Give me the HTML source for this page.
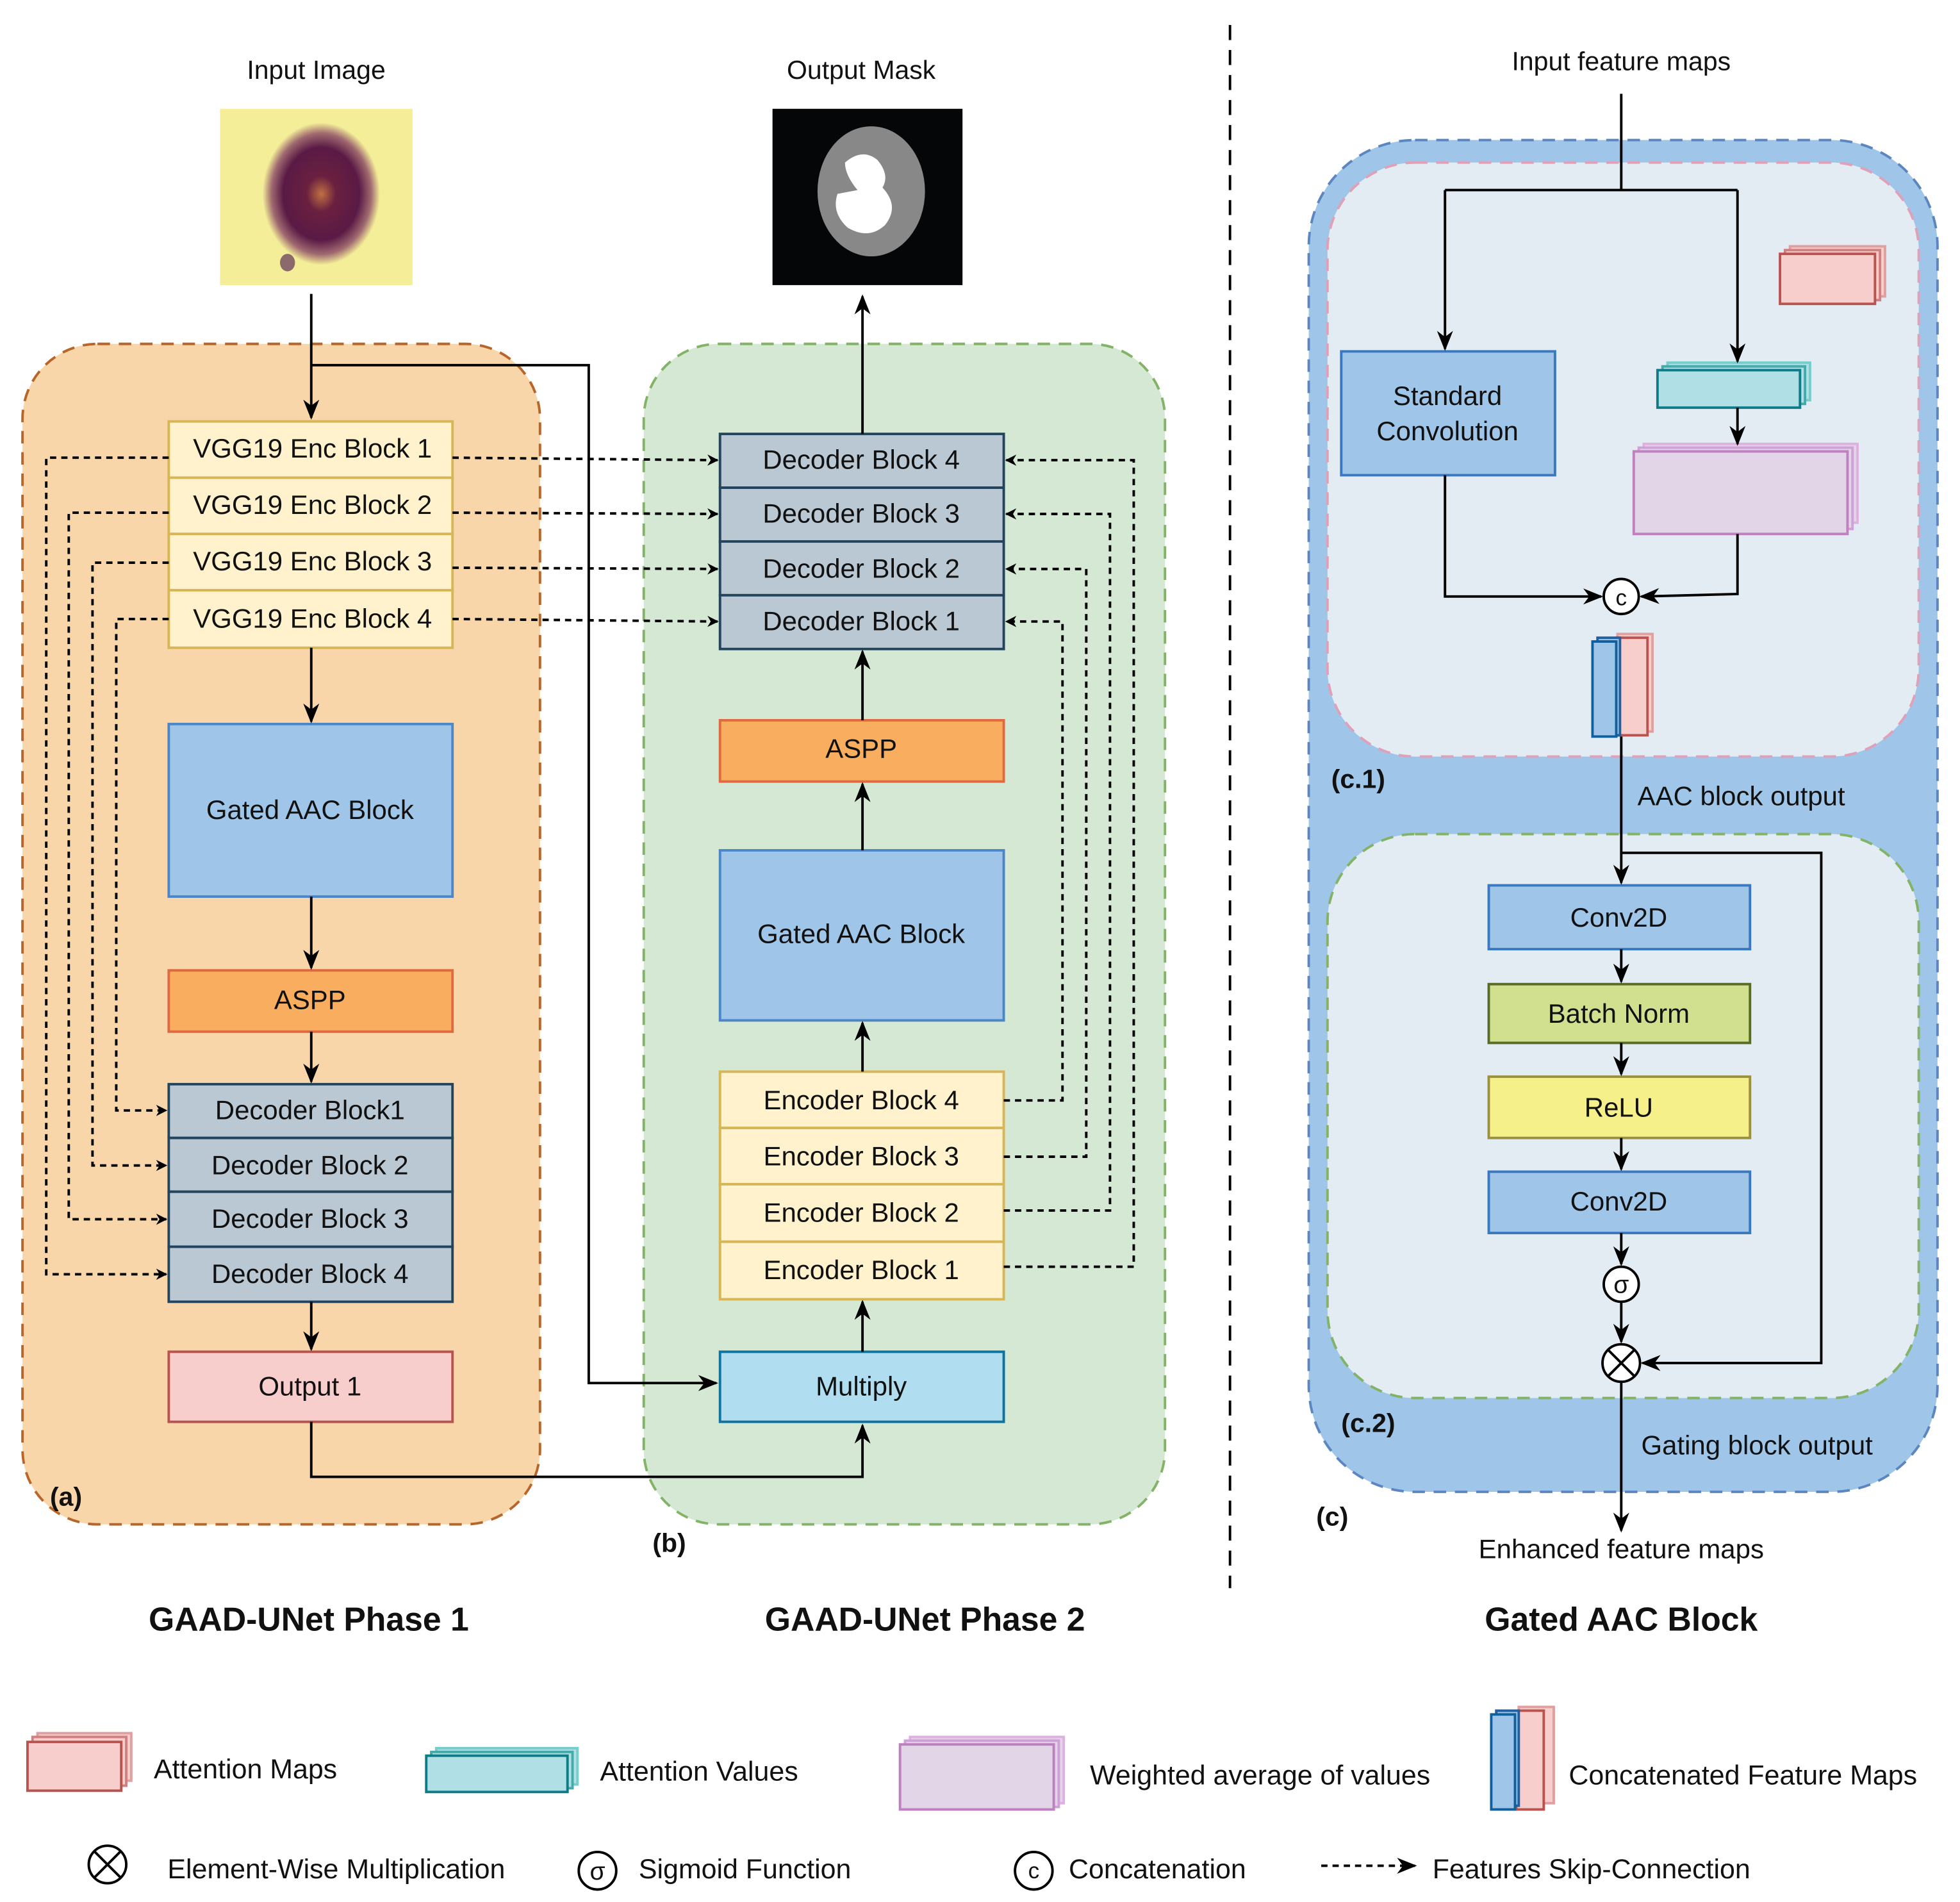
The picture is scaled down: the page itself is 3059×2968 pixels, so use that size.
<!DOCTYPE html>
<html><head><meta charset="utf-8"><style>
html,body{margin:0;padding:0;background:#fff}
svg{display:block}
text{font-family:"Liberation Sans",Arial,sans-serif;fill:#111}
</style></head><body>
<svg width="3059" height="2968" viewBox="0 0 1568 1521" preserveAspectRatio="none" xmlns="http://www.w3.org/2000/svg">
<defs>
<marker id="ar" viewBox="0 0 10 10" refX="9" refY="5" markerWidth="9" markerHeight="9" orient="auto" markerUnits="userSpaceOnUse"><path d="M0,0 L10,5 L0,10 L3,5 z" fill="#000"/></marker>
<marker id="ab" viewBox="0 0 10 10" refX="9" refY="5" markerWidth="16" markerHeight="16" orient="auto" markerUnits="userSpaceOnUse"><path d="M0,1 L10,5 L0,9 L3,5 z" fill="#000"/></marker>
<radialGradient id="cell" cx="50%" cy="50%" r="50%"><stop offset="0" stop-color="#c07040"/><stop offset="0.25" stop-color="#6a2040"/><stop offset="0.65" stop-color="#5a1a45"/><stop offset="0.85" stop-color="#a06a70"/><stop offset="1" stop-color="#f4ee98"/></radialGradient>
</defs>

<g font-size="21" text-anchor="middle">
<text x="253" y="63">Input Image</text>
<text x="689" y="63">Output Mask</text>
<text x="1297" y="56">Input feature maps</text>
</g>
<rect x="176" y="87" width="154" height="141" fill="#f4ee98"/>
<ellipse cx="257" cy="155" rx="47" ry="57" fill="url(#cell)"/>
<ellipse cx="230" cy="210" rx="6" ry="7" fill="#8a6a6a"/>
<rect x="618" y="87" width="152" height="141" fill="#050608"/>
<ellipse cx="697" cy="153" rx="43" ry="52" fill="#888"/>
<path d="M676,130 Q690,118 702,128 Q712,140 706,150 Q720,165 708,180 Q695,192 678,182 Q665,170 670,155 L686,152 Q676,140 676,130z" fill="#fff"/>

<rect x="18" y="275" width="414" height="944" rx="60" fill="#f8d6a9" stroke="#b8652a" stroke-width="2" stroke-dasharray="10,7"/>
<rect x="515" y="275" width="417" height="944" rx="60" fill="#d5e8d4" stroke="#82b366" stroke-width="2" stroke-dasharray="10,7"/>
<line x1="984" y1="20" x2="984" y2="1270" stroke="#000" stroke-width="2" stroke-dasharray="12,8"/>

<g font-size="21.5" text-anchor="middle" stroke-width="2">
<rect x="135" y="337" width="227" height="45" fill="#fff2cc" stroke="#d6b656"/>
<rect x="135" y="382" width="227" height="45" fill="#fff2cc" stroke="#d6b656"/>
<rect x="135" y="427" width="227" height="45" fill="#fff2cc" stroke="#d6b656"/>
<rect x="135" y="472" width="227" height="46" fill="#fff2cc" stroke="#d6b656"/>
<text x="250" y="366" stroke="none">VGG19 Enc Block 1</text>
<text x="250" y="411" stroke="none">VGG19 Enc Block 2</text>
<text x="250" y="456" stroke="none">VGG19 Enc Block 3</text>
<text x="250" y="502" stroke="none">VGG19 Enc Block 4</text>
<rect x="135" y="579" width="227" height="138" fill="#9fc5e8" stroke="#4a86c8"/>
<text x="248" y="655" stroke="none">Gated AAC Block</text>
<rect x="135" y="776" width="227" height="49" fill="#f9ad5f" stroke="#e06a40"/>
<text x="248" y="807" stroke="none">ASPP</text>
<rect x="135" y="867" width="227" height="43" fill="#bac8d3" stroke="#23445d"/>
<rect x="135" y="910" width="227" height="43" fill="#bac8d3" stroke="#23445d"/>
<rect x="135" y="953" width="227" height="44" fill="#bac8d3" stroke="#23445d"/>
<rect x="135" y="997" width="227" height="44" fill="#bac8d3" stroke="#23445d"/>
<text x="248" y="895" stroke="none">Decoder Block1</text>
<text x="248" y="939" stroke="none">Decoder Block 2</text>
<text x="248" y="982" stroke="none">Decoder Block 3</text>
<text x="248" y="1026" stroke="none">Decoder Block 4</text>
<rect x="135" y="1081" width="227" height="56" fill="#f8cecc" stroke="#b85450"/>
<text x="248" y="1116" stroke="none">Output 1</text>

<rect x="576" y="347" width="227" height="43" fill="#bac8d3" stroke="#23445d"/>
<rect x="576" y="390" width="227" height="43" fill="#bac8d3" stroke="#23445d"/>
<rect x="576" y="433" width="227" height="43" fill="#bac8d3" stroke="#23445d"/>
<rect x="576" y="476" width="227" height="43" fill="#bac8d3" stroke="#23445d"/>
<text x="689" y="375" stroke="none">Decoder Block 4</text>
<text x="689" y="418" stroke="none">Decoder Block 3</text>
<text x="689" y="462" stroke="none">Decoder Block 2</text>
<text x="689" y="504" stroke="none">Decoder Block 1</text>
<rect x="576" y="576" width="227" height="49" fill="#f9ad5f" stroke="#e06a40"/>
<text x="689" y="606" stroke="none">ASPP</text>
<rect x="576" y="680" width="227" height="136" fill="#9fc5e8" stroke="#4a86c8"/>
<text x="689" y="754" stroke="none">Gated AAC Block</text>
<rect x="576" y="857" width="227" height="45" fill="#fff2cc" stroke="#d6b656"/>
<rect x="576" y="902" width="227" height="45" fill="#fff2cc" stroke="#d6b656"/>
<rect x="576" y="947" width="227" height="46" fill="#fff2cc" stroke="#d6b656"/>
<rect x="576" y="993" width="227" height="46" fill="#fff2cc" stroke="#d6b656"/>
<text x="689" y="887" stroke="none">Encoder Block 4</text>
<text x="689" y="932" stroke="none">Encoder Block 3</text>
<text x="689" y="977" stroke="none">Encoder Block 2</text>
<text x="689" y="1023" stroke="none">Encoder Block 1</text>
<rect x="576" y="1081" width="227" height="56" fill="#b1ddf0" stroke="#10739e"/>
<text x="689" y="1116" stroke="none">Multiply</text>
</g>

<g stroke="#000" stroke-width="2" fill="none">
<line x1="249" y1="235" x2="249" y2="334" marker-end="url(#ab)"/>
<polyline points="249,292 471,292 471,1106 573,1106" marker-end="url(#ab)"/>
<line x1="249" y1="518" x2="249" y2="577" marker-end="url(#ab)"/>
<line x1="249" y1="717" x2="249" y2="774" marker-end="url(#ab)"/>
<line x1="249" y1="825" x2="249" y2="865" marker-end="url(#ab)"/>
<line x1="249" y1="1041" x2="249" y2="1079" marker-end="url(#ab)"/>
<polyline points="249,1137 249,1181 690,1181 690,1140" marker-end="url(#ab)"/>
<line x1="690" y1="1081" x2="690" y2="1041" marker-end="url(#ab)"/>
<line x1="690" y1="857" x2="690" y2="818" marker-end="url(#ab)"/>
<line x1="690" y1="680" x2="690" y2="627" marker-end="url(#ab)"/>
<line x1="690" y1="576" x2="690" y2="521" marker-end="url(#ab)"/>
<line x1="690" y1="347" x2="690" y2="237" marker-end="url(#ab)"/>
</g>
<g stroke="#000" stroke-width="2" fill="none" stroke-dasharray="5,4">
<line x1="362" y1="366" x2="574" y2="368" marker-end="url(#ar)"/>
<line x1="362" y1="410" x2="574" y2="411" marker-end="url(#ar)"/>
<line x1="362" y1="454" x2="574" y2="455" marker-end="url(#ar)"/>
<line x1="362" y1="495" x2="574" y2="497" marker-end="url(#ar)"/>
<polyline points="135,366 37,366 37,1019 133,1019" marker-end="url(#ar)"/>
<polyline points="135,410 55,410 55,975 133,975" marker-end="url(#ar)"/>
<polyline points="135,450 74,450 74,932 133,932" marker-end="url(#ar)"/>
<polyline points="135,495 93,495 93,888 133,888" marker-end="url(#ar)"/>
<polyline points="803,880 850,880 850,497 805,497" marker-end="url(#ar)"/>
<polyline points="803,925 869,925 869,455 805,455" marker-end="url(#ar)"/>
<polyline points="803,968 888,968 888,411 805,411" marker-end="url(#ar)"/>
<polyline points="803,1013 907,1013 907,368 805,368" marker-end="url(#ar)"/>
</g>

<g font-size="21" font-weight="bold">
<text x="40" y="1204">(a)</text>
<text x="522" y="1241">(b)</text>
</g>
<g font-size="26.5" font-weight="bold" text-anchor="middle">
<text x="247" y="1304">GAAD-UNet Phase 1</text>
<text x="740" y="1304">GAAD-UNet Phase 2</text>
<text x="1297" y="1304">Gated AAC Block</text>
</g>

<rect x="1047" y="112" width="503" height="1081" rx="85" fill="#9fc5e8" stroke="#5b86c0" stroke-width="2" stroke-dasharray="10,7"/>
<rect x="1062" y="130" width="473" height="475" rx="70" fill="#e3ebf3" stroke="#e0a0b8" stroke-width="2" stroke-dasharray="10,7"/>
<rect x="1062" y="667" width="473" height="451" rx="70" fill="#e3ebf3" stroke="#82b366" stroke-width="2" stroke-dasharray="10,7"/>

<g stroke-width="2">
<rect x="1073" y="281" width="171" height="99" fill="#9fc5e8" stroke="#3a78c0"/>
<rect x="1432" y="197" width="76" height="40" fill="#f8cecc" stroke="#e0a0a0"/>
<rect x="1428" y="200" width="76" height="40" fill="#f8cecc" stroke="#d08080"/>
<rect x="1424" y="203" width="76" height="40" fill="#f8cecc" stroke="#b85450"/>
<rect x="1334" y="290" width="114" height="30" fill="#b0e0e6" stroke="#7cc"/>
<rect x="1330" y="293" width="114" height="30" fill="#b0e0e6" stroke="#4aa"/>
<rect x="1326" y="296" width="114" height="30" fill="#b0e0e6" stroke="#0e7c86"/>
<rect x="1315" y="355" width="171" height="63" fill="#e1d5e7" stroke="#e0b0e0"/>
<rect x="1311" y="358" width="171" height="65" fill="#e1d5e7" stroke="#d0a0d8"/>
<rect x="1307" y="361" width="171" height="66" fill="#e1d5e7" stroke="#c080c0"/>
<rect x="1294" y="507" width="28" height="78" fill="#f8cecc" stroke="#e0a0a0"/>
<rect x="1294" y="510" width="24" height="78" fill="#f8cecc" stroke="#b85450"/>
<rect x="1278" y="510" width="18" height="78" fill="#9fc5e8" stroke="#2060a0"/>
<rect x="1274" y="513" width="19" height="76" fill="#9fc5e8" stroke="#10609e"/>
<rect x="1191" y="708" width="209" height="51" fill="#9fc5e8" stroke="#3a78c0"/>
<rect x="1191" y="787" width="209" height="47" fill="#d0e08e" stroke="#5a6a2a"/>
<rect x="1191" y="861" width="209" height="49" fill="#f5f08a" stroke="#9a9040"/>
<rect x="1191" y="937" width="209" height="49" fill="#9fc5e8" stroke="#3a78c0"/>
</g>
<g font-size="21.5" text-anchor="middle">
<text x="1158" y="324">Standard</text>
<text x="1158" y="352">Convolution</text>
<text x="1295" y="741">Conv2D</text>
<text x="1295" y="818">Batch Norm</text>
<text x="1295" y="893">ReLU</text>
<text x="1295" y="968">Conv2D</text>
<text x="1297" y="1246">Enhanced feature maps</text>
</g>
<g font-size="21.5">
<text x="1310" y="644">AAC block output</text>
<text x="1313" y="1163">Gating block output</text>
</g>
<g font-size="21" font-weight="bold">
<text x="1065" y="630">(c.1)</text>
<text x="1073" y="1145">(c.2)</text>
<text x="1053" y="1220">(c)</text>
</g>

<g stroke="#000" stroke-width="2" fill="none">
<line x1="1297" y1="75" x2="1297" y2="152"/>
<polyline points="1156,152 1390,152"/>
<line x1="1156" y1="152" x2="1156" y2="279" marker-end="url(#ab)"/>
<line x1="1390" y1="152" x2="1390" y2="289" marker-end="url(#ab)"/>
<line x1="1390" y1="326" x2="1390" y2="355" marker-end="url(#ab)"/>
<polyline points="1156,380 1156,477 1281,477" marker-end="url(#ab)"/>
<polyline points="1390,427 1390,475 1313,477" marker-end="url(#ab)"/>
<line x1="1297" y1="589" x2="1297" y2="706" marker-end="url(#ab)"/>
<polyline points="1297,682 1457,682 1457,1090 1314,1090" marker-end="url(#ab)"/>
<line x1="1297" y1="759" x2="1297" y2="785" marker-end="url(#ab)"/>
<line x1="1297" y1="834" x2="1297" y2="859" marker-end="url(#ab)"/>
<line x1="1297" y1="910" x2="1297" y2="935" marker-end="url(#ab)"/>
<line x1="1297" y1="986" x2="1297" y2="1011" marker-end="url(#ab)"/>
<line x1="1297" y1="1041" x2="1297" y2="1073" marker-end="url(#ab)"/>
<line x1="1297" y1="1105" x2="1297" y2="1224" marker-end="url(#ab)"/>
<circle cx="1297" cy="477" r="14" fill="#fff"/>
<circle cx="1297" cy="1027" r="14" fill="#fff"/>
<circle cx="1297" cy="1090" r="15" fill="#fff"/>
<path d="M1286,1079 L1308,1101 M1308,1079 L1286,1101"/>
</g>
<text x="1297" y="484" font-size="18" text-anchor="middle">c</text>
<text x="1297" y="1034" font-size="20" text-anchor="middle">σ</text>

<g stroke-width="2">
<rect x="30" y="1386" width="75" height="38" fill="#f8cecc" stroke="#e0a0a0"/>
<rect x="26" y="1389" width="75" height="39" fill="#f8cecc" stroke="#d08080"/>
<rect x="22" y="1393" width="75" height="39" fill="#f8cecc" stroke="#b85450"/>
<rect x="349" y="1398" width="113" height="29" fill="#b0e0e6" stroke="#7cc"/>
<rect x="345" y="1401" width="113" height="29" fill="#b0e0e6" stroke="#4aa"/>
<rect x="341" y="1404" width="113" height="29" fill="#b0e0e6" stroke="#0e7c86"/>
<rect x="728" y="1389" width="123" height="53" fill="#e1d5e7" stroke="#e0b0e0"/>
<rect x="724" y="1392" width="123" height="53" fill="#e1d5e7" stroke="#d0a0d8"/>
<rect x="720" y="1395" width="123" height="52" fill="#e1d5e7" stroke="#c080c0"/>
<rect x="1215" y="1365" width="28" height="77" fill="#f8cecc" stroke="#e0a0a0"/>
<rect x="1213" y="1368" width="22" height="79" fill="#f8cecc" stroke="#b85450"/>
<rect x="1197" y="1368" width="18" height="76" fill="#9fc5e8" stroke="#2060a0"/>
<rect x="1193" y="1371" width="19" height="76" fill="#9fc5e8" stroke="#10609e"/>
</g>
<g stroke="#000" stroke-width="2" fill="none">
<circle cx="86" cy="1491" r="15" fill="#fff"/>
<path d="M75,1480 L97,1502 M97,1480 L75,1502"/>
<circle cx="478" cy="1496" r="15" fill="#fff"/>
<circle cx="827" cy="1496" r="15" fill="#fff"/>
<line x1="1057" y1="1492" x2="1132" y2="1492" stroke-dasharray="5,4" marker-end="url(#ab)"/>
</g>
<text x="478" y="1503" font-size="20" text-anchor="middle">σ</text>
<text x="827" y="1502" font-size="18" text-anchor="middle">c</text>
<g font-size="22">
<text x="123" y="1422">Attention Maps</text>
<text x="480" y="1424">Attention Values</text>
<text x="872" y="1427">Weighted average of values</text>
<text x="1255" y="1427">Concatenated Feature Maps</text>
<text x="134" y="1502">Element-Wise Multiplication</text>
<text x="511" y="1502">Sigmoid Function</text>
<text x="855" y="1502">Concatenation</text>
<text x="1146" y="1502">Features Skip-Connection</text>
</g>
</svg>
</body></html>
